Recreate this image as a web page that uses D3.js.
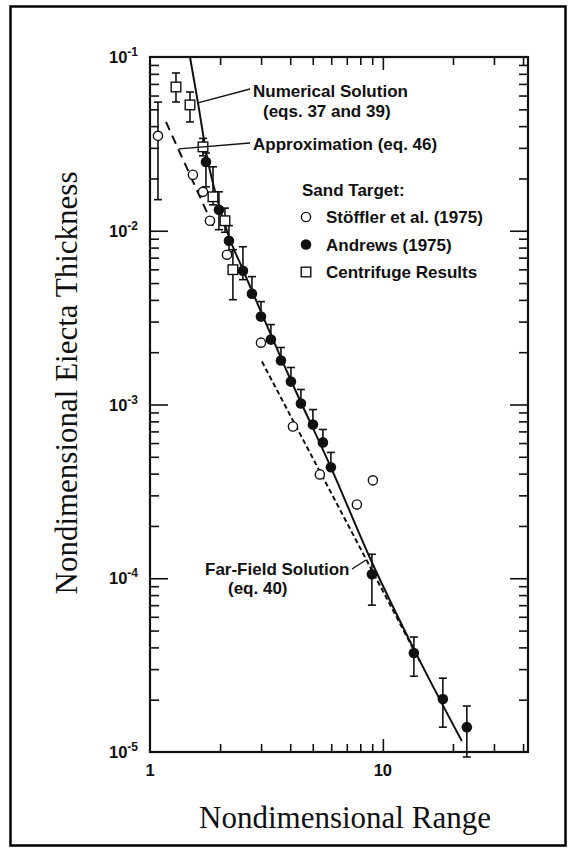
<!DOCTYPE html>
<html>
<head>
<meta charset="utf-8">
<script src="https://cdn.jsdelivr.net/npm/d3@7"></script>
<style>
  body { margin: 0; background: #fff; }
  text { fill: #111; }
</style>
</head>
<body>
<svg id="chart" width="570" height="848"></svg>
<script>
// ---- axis ticks ----
const xTickValues = [1, 10];
const xTickLabels = ["1", "10"];
const yTickValues = [1e-1, 1e-2, 1e-3, 1e-4, 1e-5];
const yTickExponents = ["-1", "-2", "-3", "-4", "-5"];

// ---- Stöffler et al. (1975), open circles ----
const stofflerX  = [1.082, 1.529, 1.689, 1.809, 2.141, 2.996, 4.11, 5.364, 7.734, 9.06];
const stofflerY  = [0.0352, 0.021, 0.01675, 0.01142, 0.00728, 0.00227, 0.000747, 0.000396, 0.000266, 0.000366];
const stofflerHi = [0.055, null, null, null, null, null, null, null, null, null];
const stofflerLo = [0.0151, null, null, null, null, null, null, null, null, null];

// ---- Andrews (1975), filled circles ----
const andrewsX  = [1.739, 1.977, 2.183, 2.507, 2.74, 2.996, 3.306, 3.65, 4.03, 4.448, 5.008, 5.527, 5.981, 8.971, 13.59, 18.1, 22.94];
const andrewsY  = [0.0249, 0.0132, 0.00876, 0.00589, 0.004345, 0.003206, 0.002364, 0.001791, 0.001355, 0.001014, 0.000767, 0.000605, 0.000435, 0.0001054, 0.0000371, 0.0000202, 0.0000139];
const andrewsHi = [0.028, 0.01675, 0.0107, 0.00809, 0.005445, 0.003909, 0.002884, 0.002128, 0.001633, 0.00122, 0.000935, 0.000718, 0.00053, 0.0001374, 0.0000459, 0.0000266, 0.0000184];
const andrewsLo = [0.0179, 0.01014, 0.00757, 0.00523, null, null, null, null, null, null, null, null, null, 0.00007, 0.0000273, 0.0000139, 0.00000936];

// ---- Centrifuge results, open squares ----
const centrifugeX  = [1.293, 1.485, 1.689, 1.864, 2.099, 2.27];
const centrifugeY  = [0.0672, 0.053, 0.0304, 0.01568, 0.01142, 0.00597];
const centrifugeHi = [0.0809, 0.0629, 0.034, 0.02333, 0.0135, 0.00778];
const centrifugeLo = [0.0551, 0.0423, 0.027, 0.0141, 0.0098, 0.00401];

// ---- model curves ----
const numericalX = [1.485, 1.607, 1.757, 1.92, 2.183, 2.507, 4.03, 5.981, 8.971, 13.59, 21.83];
const numericalY = [0.1, 0.0544, 0.02662, 0.0161, 0.009237, 0.005969, 0.001374, 0.000435, 0.0001236, 0.0000391, 0.00001156];
const approxX = [1.171, 1.883];
const approxY = [0.0423, 0.0104];
const farFieldX = [3.025, 14.41];
const farFieldY = [0.001766, 0.0000333];

const svg = d3.select("#chart");
const W = 570, H = 848;

svg.append("rect").attr("width", W).attr("height", H).attr("fill", "#fff");
// outer frame
svg.append("rect")
  .attr("x", 10.5).attr("y", 6.5).attr("width", 555).attr("height", 839)
  .attr("fill", "none").attr("stroke", "#000").attr("stroke-width", 2.5);

const plot = { left: 150, right: 528, top: 57, bottom: 752 };
const x = d3.scaleLog().domain([1, 42]).range([plot.left, plot.right]);
const y = d3.scaleLog().domain([1e-5, 1e-1]).range([plot.bottom, plot.top]);

const ink = "#111";

// minor tick values
const xMinor = [];
for (let d = 1; d <= 10; d *= 10) for (let m = 2; m <= 9; m++) if (m * d <= 42) xMinor.push(m * d);
const yMinor = [];
for (let e = -5; e < -1 + 0.5; e++) for (let m = 2; m <= 9; m++) { const v = m * Math.pow(10, e); if (v < 0.1) yMinor.push(v); }

function styleAxis(g) {
  g.select(".domain").remove();
  g.selectAll("line").attr("stroke", ink).attr("stroke-width", 1.6);
  g.selectAll("text").remove();
}

// bottom axis (inward ticks)
svg.append("g").attr("transform", `translate(0,${plot.bottom})`)
  .call(d3.axisBottom(x).tickValues(xMinor).tickSize(-8)).call(styleAxis);
svg.append("g").attr("transform", `translate(0,${plot.bottom})`)
  .call(d3.axisBottom(x).tickValues([10]).tickSize(-13)).call(styleAxis);
// top axis
svg.append("g").attr("transform", `translate(0,${plot.top})`)
  .call(d3.axisTop(x).tickValues(xMinor).tickSize(-8)).call(styleAxis);
svg.append("g").attr("transform", `translate(0,${plot.top})`)
  .call(d3.axisTop(x).tickValues([10]).tickSize(-13)).call(styleAxis);
// left axis
svg.append("g").attr("transform", `translate(${plot.left},0)`)
  .call(d3.axisLeft(y).tickValues(yMinor).tickSize(-9)).call(styleAxis);
svg.append("g").attr("transform", `translate(${plot.left},0)`)
  .call(d3.axisLeft(y).tickValues(yTickValues.slice(1, 4)).tickSize(-18)).call(styleAxis);
// right axis
svg.append("g").attr("transform", `translate(${plot.right},0)`)
  .call(d3.axisRight(y).tickValues(yMinor).tickSize(-9)).call(styleAxis);
svg.append("g").attr("transform", `translate(${plot.right},0)`)
  .call(d3.axisRight(y).tickValues(yTickValues.slice(1, 4)).tickSize(-18)).call(styleAxis);

// plot frame
svg.append("rect")
  .attr("x", plot.left).attr("y", plot.top)
  .attr("width", plot.right - plot.left).attr("height", plot.bottom - plot.top)
  .attr("fill", "none").attr("stroke", ink).attr("stroke-width", 2.2);

// tick labels
const tickFont = "'Liberation Sans', Arial, Helvetica, sans-serif";
yTickValues.forEach((v, i) => {
  const t = svg.append("text")
    .attr("x", plot.left - 12).attr("y", y(v) + 6)
    .attr("text-anchor", "end")
    .attr("font-family", tickFont).attr("font-weight", "bold").attr("font-size", 16.5);
  t.append("tspan").text("10");
  t.append("tspan").attr("dy", -7).attr("font-size", 12).text(yTickExponents[i]);
});
xTickValues.forEach((v, i) => {
  svg.append("text")
    .attr("x", x(v)).attr("y", plot.bottom + 24)
    .attr("text-anchor", "middle")
    .attr("font-family", tickFont).attr("font-weight", "bold").attr("font-size", 16.5)
    .text(xTickLabels[i]);
});

// axis titles
const titleFont = "'Liberation Serif', 'Times New Roman', Times, serif";
svg.append("text")
  .attr("x", 345).attr("y", 828)
  .attr("text-anchor", "middle")
  .attr("font-family", titleFont).attr("font-size", 31)
  .text("Nondimensional Range");
svg.append("text")
  .attr("transform", "translate(77,383) rotate(-90)")
  .attr("text-anchor", "middle")
  .attr("font-family", titleFont).attr("font-size", 31)
  .text("Nondimensional Eiecta Thickness");

// model curves
const line = d3.line().x(d => x(d[0])).y(d => y(d[1]));
const curves = svg.append("g").attr("fill", "none").attr("stroke", ink);
curves.append("path")
  .attr("d", d3.line().curve(d3.curveMonotoneX).x(d => x(d[0])).y(d => y(d[1]))(d3.zip(numericalX, numericalY)))
  .attr("stroke-width", 2);
curves.append("path")
  .attr("d", line(d3.zip(approxX, approxY)))
  .attr("stroke-width", 2).attr("stroke-dasharray", "9,6");
curves.append("path")
  .attr("d", line(d3.zip(farFieldX, farFieldY)))
  .attr("stroke-width", 2).attr("stroke-dasharray", "5,3");

// error bars
function errorBars(xs, ys, his, los) {
  const g = svg.append("g").attr("stroke", ink).attr("stroke-width", 1.6);
  xs.forEach((xv, i) => {
    const hi = his[i], lo = los[i];
    if (hi == null && lo == null) return;
    const px = x(xv);
    const yTop = hi != null ? y(hi) : y(ys[i]);
    const yBot = lo != null ? y(lo) : y(ys[i]);
    g.append("line").attr("x1", px).attr("x2", px).attr("y1", yTop).attr("y2", yBot);
    if (hi != null) g.append("line").attr("x1", px - 4).attr("x2", px + 4).attr("y1", yTop).attr("y2", yTop);
    if (lo != null) g.append("line").attr("x1", px - 4).attr("x2", px + 4).attr("y1", yBot).attr("y2", yBot);
  });
}
errorBars(stofflerX, stofflerY, stofflerHi, stofflerLo);
errorBars(andrewsX, andrewsY, andrewsHi, andrewsLo);
errorBars(centrifugeX, centrifugeY, centrifugeHi, centrifugeLo);

// markers
function openCircle(g, cx, cy) {
  g.append("circle").attr("cx", cx).attr("cy", cy).attr("r", 4.6)
    .attr("fill", "#fff").attr("stroke", ink).attr("stroke-width", 1.4);
}
function filledCircle(g, cx, cy) {
  g.append("circle").attr("cx", cx).attr("cy", cy).attr("r", 5.3).attr("fill", ink);
}
function openSquare(g, cx, cy) {
  g.append("rect").attr("x", cx - 4.8).attr("y", cy - 4.8).attr("width", 9.6).attr("height", 9.6)
    .attr("fill", "#fff").attr("stroke", ink).attr("stroke-width", 1.4);
}
const marks = svg.append("g");
stofflerX.forEach((v, i) => openCircle(marks, x(v), y(stofflerY[i])));
centrifugeX.forEach((v, i) => openSquare(marks, x(v), y(centrifugeY[i])));
andrewsX.forEach((v, i) => filledCircle(marks, x(v), y(andrewsY[i])));

// annotations
const annFont = "'Liberation Sans', Arial, Helvetica, sans-serif";
function label(tx, ty, str, anchor) {
  svg.append("text").attr("x", tx).attr("y", ty)
    .attr("text-anchor", anchor || "start")
    .attr("font-family", annFont).attr("font-weight", "bold").attr("font-size", 17)
    .text(str);
}
const leaders = svg.append("g").attr("stroke", ink).attr("stroke-width", 1.4);
label(253, 97, "Numerical Solution");
label(263, 117, "(eqs. 37 and 39)");
leaders.append("line").attr("x1", 250).attr("y1", 89).attr("x2", x(1.607)).attr("y2", y(0.0544));
label(253, 150, "Approximation (eq. 46)");
leaders.append("line").attr("x1", 250).attr("y1", 143).attr("x2", x(1.33)).attr("y2", y(0.0296));
label(205, 575, "Far-Field Solution");
label(228, 594, "(eq. 40)");
leaders.append("line").attr("x1", 352).attr("y1", 569).attr("x2", 366).attr("y2", 560);

// legend
label(302, 196, "Sand Target:");
const legendRows = [
  { name: "Stöffler et al. (1975)", draw: openCircle },
  { name: "Andrews (1975)", draw: filledCircle },
  { name: "Centrifuge Results", draw: openSquare }
];
legendRows.forEach((r, i) => {
  const ly = 223 + i * 27.5;
  r.draw(svg, 306, ly - 6);
  label(326, ly, r.name);
});
</script>
</body>
</html>
